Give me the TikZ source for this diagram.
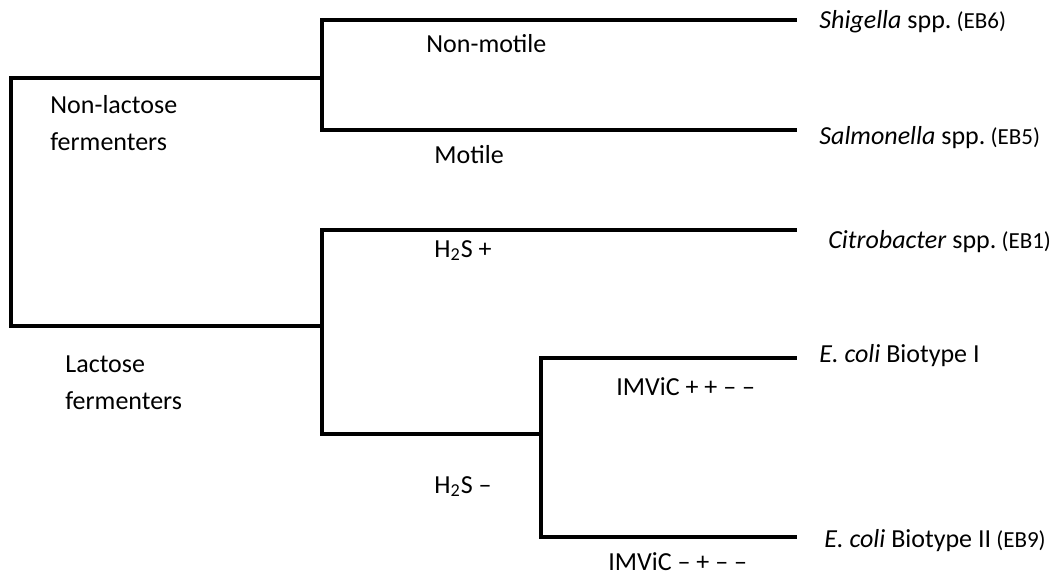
\documentclass[tikz,border=0pt]{standalone}
\usepackage{fontspec}
\setmainfont{Carlito}
\newcommand{\ebtag}[1]{{\fontsize{11.5}{13}\selectfont\ #1}}
\begin{document}
\begin{tikzpicture}[x=0.5pt,y=-0.5pt,
  branch/.style={line width=1.55pt, line join=miter, line cap=rect},
  lbl/.style={anchor=base west, inner sep=0pt, font=\fontsize{13}{15}\selectfont}]
\useasboundingbox (0,0) rectangle (1058,574);
% branch points
\coordinate (r1) at (11,78);
\coordinate (r2) at (11,326);
\coordinate (b1) at (322,78);
\coordinate (b2) at (322,326);
\coordinate (t1) at (322,20);
\coordinate (t2) at (322,130);
\coordinate (h1) at (322,230);
\coordinate (h2) at (322,434);
\coordinate (i0) at (541,434);
\coordinate (i1) at (541,358);
\coordinate (i2) at (541,537);
% leaf ends
\coordinate (shE) at (795,20);
\coordinate (saE) at (795,130);
\coordinate (ciE) at (795,230);
\coordinate (e1E) at (795,358);
\coordinate (e2E) at (795,537);
% tree
\draw[branch] (b1) -- (r1) -- (r2) -- (b2);
\draw[branch] (shE) -- (t1) -- (t2) -- (saE);
\draw[branch] (ciE) -- (h1) -- (h2) -- (i0);
\draw[branch] (e1E) -- (i1) -- (i2) -- (e2E);
% leaf labels
\node[lbl] (sh) at (819,28) {\textit{Shigella} spp.\ebtag{(EB6)}};
\node[lbl] (sa) at (819,144) {\textit{Salmonella} spp.\ebtag{(EB5)}};
\node[lbl] (ci) at (828,248) {\textit{Citrobacter} spp.\ebtag{(EB1)}};
\node[lbl] (e1) at (819,362) {\textit{E. coli} Biotype I};
\node[lbl] (e2) at (824,547) {\textit{E. coli} Biotype II\ebtag{(EB9)}};
% branch labels
\node[lbl] (nl1) at (50,113) {Non-lactose};
\node[lbl] (nl2) at (50,150) {fermenters};
\node[lbl] (lf1) at (65,372) {Lactose};
\node[lbl] (lf2) at (65,409) {fermenters};
\node[lbl] (nm) at (426,52) {Non-motile};
\node[lbl] (mo) at (434,163) {Motile};
\node[lbl] (hp) at (434,257) {H\textsubscript{2}S +};
\node[lbl] (hm) at (434,493) {H\textsubscript{2}S –};
\node[lbl] (ip) at (616,395) {IMViC + + – –};
\node[lbl] (im) at (608,570) {IMViC – + – –};
\end{tikzpicture}
\end{document}
